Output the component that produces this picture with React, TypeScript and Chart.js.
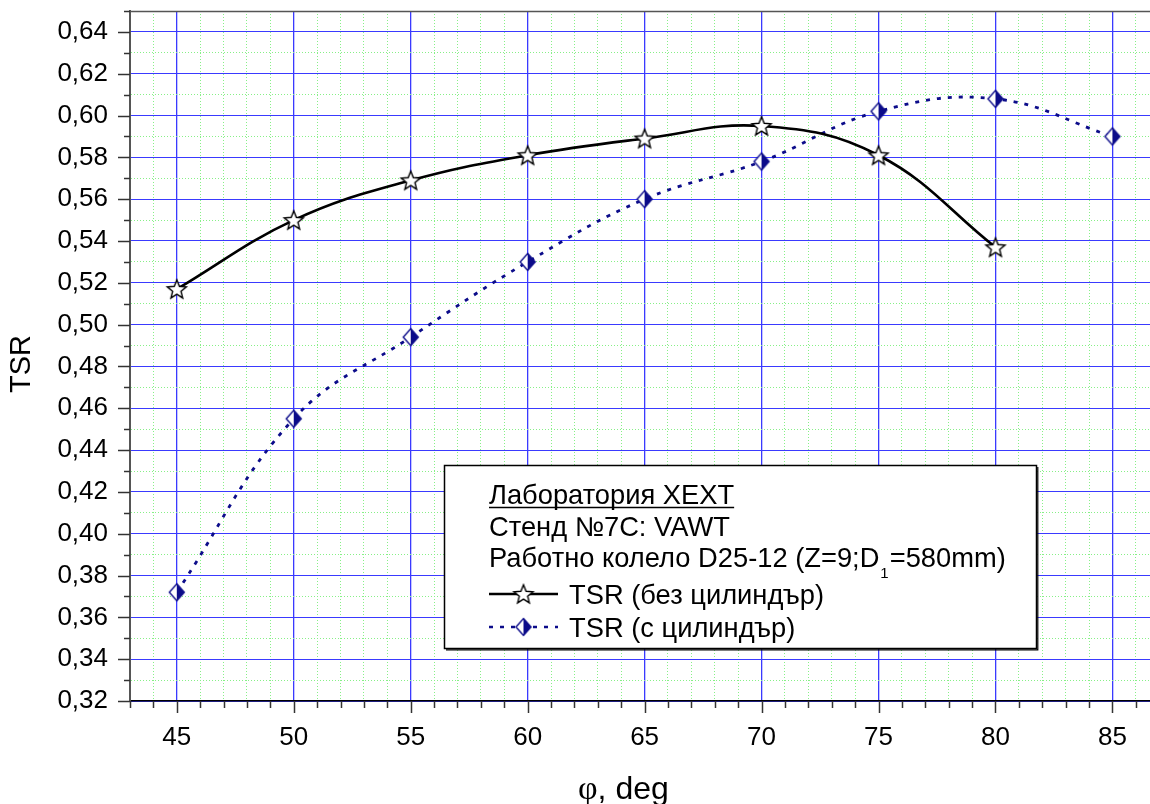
import React, { useEffect, useRef } from 'react';
import { Chart, registerables } from 'chart.js';

Chart.register(...registerables);

// ---------------- data ----------------
const angles = [45, 50, 55, 60, 65, 70, 75, 80, 85];
const tsrWithoutCylinder = [0.517, 0.550, 0.569, 0.581, 0.589, 0.595, 0.581, 0.537];
const tsrWithCylinder = [0.372, 0.455, 0.494, 0.530, 0.560, 0.578, 0.602, 0.608, 0.590];
const seriesNames = ['TSR (без цилиндър)', 'TSR (с цилиндър)'];
const legendTitle = 'Лаборатория ХЕХТ';
const legendStand = 'Стенд №7С: VAWT';
const legendWheelMain = 'Работно колело D25-12 (Z=9;D';
const legendWheelSub = '1';
const legendWheelTail = '=580mm)';
const xAxisSymbol = 'φ';
const xAxisUnit = ', deg';
const yAxisTitle = 'TSR';
const xMin = 43;
const xMax = 87;
const xMajorStep = 5;
const yMinHundredths = 32;
const yMaxHundredths = 65;
const yMajorStepHundredths = 2;

const SANS = '"Liberation Sans", Arial, sans-serif';
const SERIF = '"Liberation Serif", "Times New Roman", serif';
const NAVY = '#0c0c8a';
const MAJOR_GRID = '#3a3aff';
const MINOR_GRID = 'rgb(135,240,135)';

const xTickValues: number[] = [];
for (let v = xMin; v <= xMax; v++) xTickValues.push(v);
const yTickHundredths: number[] = [];
for (let v = yMinHundredths; v <= yMaxHundredths; v++) yTickHundredths.push(v);

function makeStar(): HTMLCanvasElement {
  const size = 26;
  const c = document.createElement('canvas');
  c.width = size;
  c.height = size;
  const g = c.getContext('2d')!;
  const rOut = 10;
  const rIn = 4.4;
  g.beginPath();
  for (let i = 0; i < 10; i++) {
    const r = i % 2 === 0 ? rOut : rIn;
    const a = -Math.PI / 2 + (i * Math.PI) / 5;
    const x = size / 2 + r * Math.cos(a);
    const y = size / 2 + 0.8 + r * Math.sin(a);
    if (i === 0) g.moveTo(x, y);
    else g.lineTo(x, y);
  }
  g.closePath();
  g.fillStyle = '#ffffff';
  g.fill();
  g.lineWidth = 1.4;
  g.strokeStyle = '#000000';
  g.lineJoin = 'miter';
  g.stroke();
  return c;
}

function makeDiamond(): HTMLCanvasElement {
  const w = 20;
  const h = 22;
  const c = document.createElement('canvas');
  c.width = w;
  c.height = h;
  const g = c.getContext('2d')!;
  const cx = w / 2;
  const cy = h / 2;
  const hw = 7.5;
  const hh = 8.5;
  g.beginPath();
  g.moveTo(cx, cy - hh);
  g.lineTo(cx - hw, cy);
  g.lineTo(cx, cy + hh);
  g.closePath();
  g.fillStyle = '#ffffff';
  g.fill();
  g.beginPath();
  g.moveTo(cx, cy - hh);
  g.lineTo(cx + hw, cy);
  g.lineTo(cx, cy + hh);
  g.closePath();
  g.fillStyle = NAVY;
  g.fill();
  g.beginPath();
  g.moveTo(cx, cy - hh);
  g.lineTo(cx + hw, cy);
  g.lineTo(cx, cy + hh);
  g.lineTo(cx - hw, cy);
  g.closePath();
  g.lineWidth = 1.4;
  g.strokeStyle = NAVY;
  g.stroke();
  return c;
}

export default function App() {
  const ref = useRef<HTMLCanvasElement | null>(null);

  useEffect(() => {
    const canvas = ref.current;
    if (!canvas) return;
    const star = makeStar();
    const diamond = makeDiamond();

    const overlay = {
      id: 'overlay',
      afterDraw(chart: any) {
        const { ctx, chartArea: a, scales } = chart;
        const xs = scales.x;
        const ys = scales.y;
        ctx.save();

        // top frame line
        ctx.strokeStyle = '#555555';
        ctx.lineWidth = 1.5;
        ctx.beginPath();
        ctx.moveTo(a.left, a.top + 0.5);
        ctx.lineTo(a.right, a.top + 0.5);
        ctx.stroke();

        // y tick marks
        ctx.strokeStyle = '#333333';
        ctx.lineWidth = 1.5;
        yTickHundredths.forEach((h) => {
          const py = Math.round(ys.getPixelForValue(h / 100)) + 0.5;
          const len = h % yMajorStepHundredths === 0 ? 12 : 6;
          ctx.beginPath();
          ctx.moveTo(a.left - len, py);
          ctx.lineTo(a.left, py);
          ctx.stroke();
        });
        // x tick marks
        xTickValues.forEach((v) => {
          const px = Math.round(xs.getPixelForValue(v)) + 0.5;
          const len = v % xMajorStep === 0 ? 12 : 7;
          ctx.beginPath();
          ctx.moveTo(px, a.bottom);
          ctx.lineTo(px, a.bottom + len);
          ctx.stroke();
        });

        // axis titles
        ctx.fillStyle = '#000000';
        ctx.save();
        ctx.translate(22, 364);
        ctx.rotate(-Math.PI / 2);
        ctx.font = `29px ${SANS}`;
        ctx.textAlign = 'center';
        ctx.textBaseline = 'middle';
        ctx.fillText(yAxisTitle, 0, 0);
        ctx.restore();

        ctx.textAlign = 'left';
        ctx.textBaseline = 'alphabetic';
        ctx.font = `34px ${SERIF}`;
        const titleX = 578;
        const titleY = 799;
        ctx.fillText(xAxisSymbol, titleX, titleY);
        const phiW = ctx.measureText(xAxisSymbol).width;
        ctx.font = `32px ${SANS}`;
        ctx.fillText(xAxisUnit, titleX + phiW, titleY);

        // legend box
        const bx = 444;
        const by = 465;
        const bw = 592;
        const bh = 183;
        ctx.fillStyle = '#ffffff';
        ctx.fillRect(bx, by, bw, bh);
        ctx.strokeStyle = '#000000';
        ctx.lineWidth = 1.5;
        ctx.strokeRect(bx + 0.5, by + 0.5, bw, bh);
        ctx.lineWidth = 1.2;
        ctx.beginPath();
        ctx.moveTo(bx + 2, by + bh + 1.8);
        ctx.lineTo(bx + bw + 1.8, by + bh + 1.8);
        ctx.lineTo(bx + bw + 1.8, by + 2);
        ctx.stroke();

        const FS = 27.3;
        const tx = 489;
        ctx.fillStyle = '#000000';
        ctx.font = `${FS}px ${SANS}`;
        ctx.textBaseline = 'alphabetic';
        ctx.fillText(legendTitle, tx, 504);
        const tw = ctx.measureText(legendTitle).width;
        ctx.strokeStyle = '#000000';
        ctx.lineWidth = 1.5;
        ctx.beginPath();
        ctx.moveTo(tx, 507.5);
        ctx.lineTo(tx + tw, 507.5);
        ctx.stroke();

        ctx.fillText(legendStand, tx, 535.5);

        ctx.fillText(legendWheelMain, tx, 567);
        let wx = tx + ctx.measureText(legendWheelMain).width;
        ctx.font = `15px ${SANS}`;
        ctx.fillText(legendWheelSub, wx + 1, 578);
        wx += ctx.measureText(legendWheelSub).width + 2;
        ctx.font = `${FS}px ${SANS}`;
        ctx.fillText(legendWheelTail, wx, 567);

        // series rows
        const lx0 = 489;
        const lx1 = 558;
        const mx = 523.5;
        const row1 = 594;
        const row2 = 627;
        ctx.strokeStyle = '#000000';
        ctx.lineWidth = 2.5;
        ctx.beginPath();
        ctx.moveTo(lx0, row1);
        ctx.lineTo(lx1, row1);
        ctx.stroke();
        ctx.drawImage(star, mx - star.width / 2, row1 - star.height / 2);

        ctx.strokeStyle = NAVY;
        ctx.lineWidth = 2.5;
        ctx.setLineDash([4, 7]);
        ctx.beginPath();
        ctx.moveTo(lx0, row2);
        ctx.lineTo(lx1, row2);
        ctx.stroke();
        ctx.setLineDash([]);
        ctx.drawImage(diamond, mx - diamond.width / 2, row2 - diamond.height / 2);

        ctx.fillStyle = '#000000';
        ctx.font = `${FS}px ${SANS}`;
        ctx.fillText(seriesNames[0], 569, row1 + 9.8);
        ctx.fillText(seriesNames[1], 569, row2 + 9.8);

        ctx.restore();
      },
    };

    const chart = new Chart(canvas, {
      type: 'line',
      data: {
        datasets: [
          {
            label: seriesNames[0],
            data: tsrWithoutCylinder.map((y, i) => ({ x: angles[i], y })),
            borderColor: '#000000',
            borderWidth: 2.6,
            tension: 0.4,
            fill: false,
            pointStyle: star as any,
            pointRadius: 8,
            pointHoverRadius: 8,
          },
          {
            label: seriesNames[1],
            data: tsrWithCylinder.map((y, i) => ({ x: angles[i], y })),
            borderColor: NAVY,
            borderWidth: 2.8,
            borderDash: [4, 7],
            borderCapStyle: 'butt',
            tension: 0.4,
            fill: false,
            pointStyle: diamond as any,
            pointRadius: 8,
            pointHoverRadius: 8,
          },
        ],
      },
      options: {
        animation: false,
        responsive: false,
        devicePixelRatio: 1,
        events: [],
        layout: { padding: { left: 0, right: 10, top: 11, bottom: 0 } },
        plugins: {
          legend: { display: false },
          tooltip: { enabled: false },
          title: { display: false },
        },
        scales: {
          x: {
            type: 'linear',
            min: xMin,
            max: xMax,
            afterBuildTicks: (s: any) => {
              s.ticks = xTickValues.map((v) => ({ value: v }));
            },
            afterFit: (s: any) => {
              s.height = 103;
              s.paddingLeft = 0;
              s.paddingRight = 0;
            },
            ticks: {
              autoSkip: false,
              maxRotation: 0,
              minRotation: 0,
              padding: 21,
              color: '#000000',
              font: { family: SANS, size: 26 },
              callback: (v: any) => (Number(v) % xMajorStep === 0 && Number(v) <= 85 ? String(v) : ''),
            },
            grid: {
              drawTicks: false,
              color: (c: any) => (c.tick && c.tick.value % xMajorStep === 0 ? MAJOR_GRID : MINOR_GRID),
              lineWidth: (c: any) => (c.tick && c.tick.value % xMajorStep === 0 ? 1.3 : 1),
            },
            border: {
              display: true,
              color: '#000000',
              width: 1.5,
              dash: (c: any) => (c.tick && c.tick.value % xMajorStep !== 0 ? [1, 2] : []),
            },
          },
          y: {
            type: 'linear',
            min: yMinHundredths / 100,
            max: yMaxHundredths / 100,
            afterBuildTicks: (s: any) => {
              s.ticks = yTickHundredths.map((h) => ({ value: h / 100 }));
            },
            afterFit: (s: any) => {
              s.width = 130;
              s.paddingTop = 0;
              s.paddingBottom = 0;
            },
            ticks: {
              autoSkip: false,
              padding: 22,
              color: '#000000',
              font: { family: SANS, size: 26 },
              callback: (v: any) => {
                const h = Math.round(Number(v) * 100);
                return h % yMajorStepHundredths === 0 ? (h / 100).toFixed(2).replace('.', ',') : '';
              },
            },
            grid: {
              drawTicks: false,
              color: (c: any) => {
                if (!c.tick) return MAJOR_GRID;
                const h = Math.round(c.tick.value * 100);
                return h % yMajorStepHundredths === 0 ? MAJOR_GRID : MINOR_GRID;
              },
              lineWidth: 1,
            },
            border: {
              display: true,
              color: '#555555',
              width: 2,
              dash: (c: any) => {
                if (!c.tick) return [];
                const h = Math.round(c.tick.value * 100);
                return h % yMajorStepHundredths === 0 ? [] : [1, 2];
              },
            },
          },
        },
      } as any,
      plugins: [overlay],
    });

    return () => {
      chart.destroy();
    };
  }, []);

  return (
    <div
      style={{
        position: 'fixed',
        left: 0,
        top: 0,
        width: 1150,
        height: 804,
        overflow: 'hidden',
        background: '#ffffff',
      }}
    >
      <canvas ref={ref} width={1170} height={804} style={{ display: 'block', width: 1170, height: 804 }} />
    </div>
  );
}
